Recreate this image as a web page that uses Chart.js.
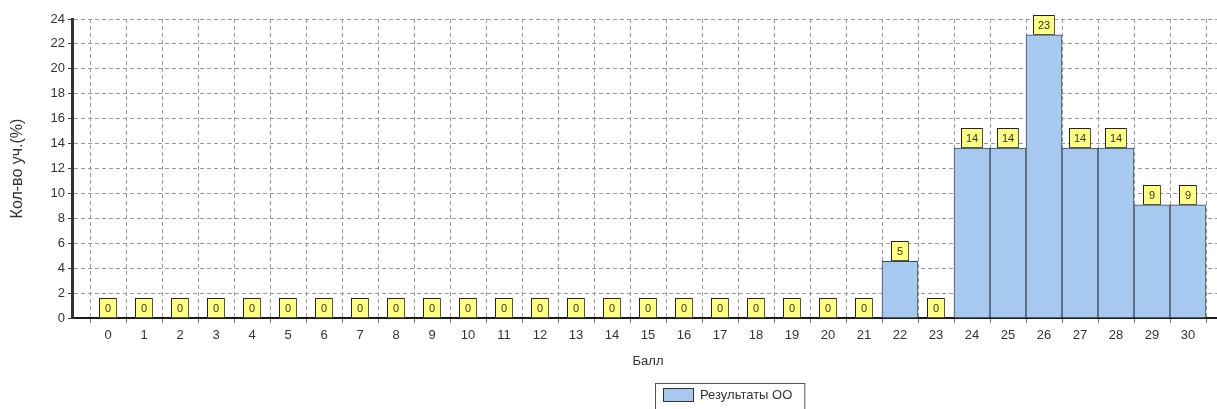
<!DOCTYPE html>
<html>
<head>
<meta charset="utf-8">
<script src="https://cdn.jsdelivr.net/npm/chart.js@4"></script>
<style>
  html, body { margin: 0; padding: 0; background: #fff; overflow: hidden; }
  #chart { display: block; }
</style>
</head>
<body>
<!-- a bit wider than the window: the original plot runs past its right edge -->
<canvas id="chart" width="1229" height="409"></canvas>
<script>
// scores (Балл) and share of students, %
const scores = ['0', '1', '2', '3', '4', '5', '6', '7', '8', '9', '10', '11', '12', '13', '14', '15',
    '16', '17', '18', '19', '20', '21', '22', '23', '24', '25', '26', '27', '28', '29', '30'];
const percents = [0, 0, 0, 0, 0, 0, 0, 0, 0, 0, 0, 0, 0, 0, 0, 0,
    0, 0, 0, 0, 0, 0, 4.55, 0, 13.64, 13.64, 22.73, 13.64, 13.64, 9.09, 9.09];
const seriesName = 'Результаты ОО';
const yTitle = 'Кол-во уч.(%)';
const xTitle = 'Балл';

const FONT = '"Liberation Sans", Arial, sans-serif';
const BAR_FILL = '#a7c9ef';

// empty slot on each side, like the original
const labels = [''].concat(scores, ['']);
const values = [null].concat(percents, [null]);

const valueBoxes = {
    id: 'valueBoxes',
    afterDatasetsDraw(chart) {
        const ctx = chart.ctx;
        const meta = chart.getDatasetMeta(0);
        ctx.save();
        ctx.font = '11px ' + FONT;
        ctx.textAlign = 'center';
        ctx.textBaseline = 'middle';
        meta.data.forEach((bar, i) => {
            const v = values[i];
            if (v === null || v === undefined) return;
            const txt = String(Math.round(v));
            const w = txt.length > 1 ? 22 : 18;
            const h = 20;
            const x = Math.round(bar.x - w / 2);
            const y = Math.round(bar.y - h);
            ctx.fillStyle = '#ffff80';
            ctx.fillRect(x, y, w, h);
            ctx.strokeStyle = '#222';
            ctx.lineWidth = 1;
            ctx.strokeRect(x + 0.5, y + 0.5, w - 1, h - 1);
            ctx.fillStyle = '#555';
            ctx.fillRect(x + w - 1, y, 1, h);
            ctx.fillRect(x, y + h - 1, w, 1);
            ctx.fillStyle = '#333';
            ctx.fillText(txt, x + w / 2, y + h / 2 + 1);
        });
        ctx.restore();
    }
};

const boxedLegend = {
    id: 'boxedLegend',
    afterDraw(chart) {
        const ctx = chart.ctx;
        ctx.save();
        ctx.font = '13px ' + FONT;
        const tw = ctx.measureText(seriesName).width;
        const left = 655;
        const top = 383;
        const w = 45 + tw + 12;
        ctx.strokeStyle = '#555';
        ctx.lineWidth = 1;
        ctx.strokeRect(left + 0.5, top + 0.5, w, 30);
        ctx.fillStyle = BAR_FILL;
        ctx.fillRect(663, 388, 30, 13);
        ctx.strokeStyle = '#333';
        ctx.strokeRect(663.5, 388.5, 30, 13);
        ctx.fillStyle = '#333';
        ctx.textBaseline = 'middle';
        ctx.fillText(seriesName, 700, 395);
        ctx.restore();
    }
};

new Chart(document.getElementById('chart'), {
    type: 'bar',
    data: {
        labels: labels,
        datasets: [{
            label: seriesName,
            data: values,
            backgroundColor: BAR_FILL,
            borderColor: '#3c4650',
            borderWidth: 1,
            barPercentage: 1,
            categoryPercentage: 1
        }]
    },
    options: {
        responsive: false,
        devicePixelRatio: 1,
        animation: false,
        layout: {
            padding: { left: 0, right: 0, top: 19, bottom: 40 }
        },
        plugins: {
            legend: { display: false },
            tooltip: { enabled: false }
        },
        scales: {
            x: {
                offset: false,
                grid: {
                    color: '#9a9a9a',
                    tickLength: 5,
                    tickColor: '#777'
                },
                border: { color: '#1a1a1a', width: 2, dash: [4, 3] },
                ticks: {
                    color: '#333',
                    font: { family: FONT, size: 13 },
                    maxRotation: 0,
                    autoSkip: false,
                    padding: 5
                },
                title: {
                    display: true,
                    text: xTitle,
                    color: '#333',
                    font: { family: FONT, size: 13 },
                    padding: { top: 0, bottom: 0 }
                },
                afterFit: (scale) => { scale.height = 51; }
            },
            y: {
                min: 0,
                max: 24,
                ticks: {
                    stepSize: 2,
                    color: '#333',
                    font: { family: FONT, size: 13 },
                    padding: 3
                },
                grid: {
                    color: '#9a9a9a',
                    tickLength: 4,
                    tickColor: '#444'
                },
                border: { color: '#333', width: 3, dash: [4, 3] },
                title: {
                    display: true,
                    text: yTitle,
                    color: '#333',
                    font: { family: FONT, size: 16 },
                    padding: { top: 8, bottom: 0 }
                },
                afterFit: (scale) => { scale.width = 72; }
            }
        }
    },
    plugins: [valueBoxes, boxedLegend]
});
</script>
</body>
</html>
